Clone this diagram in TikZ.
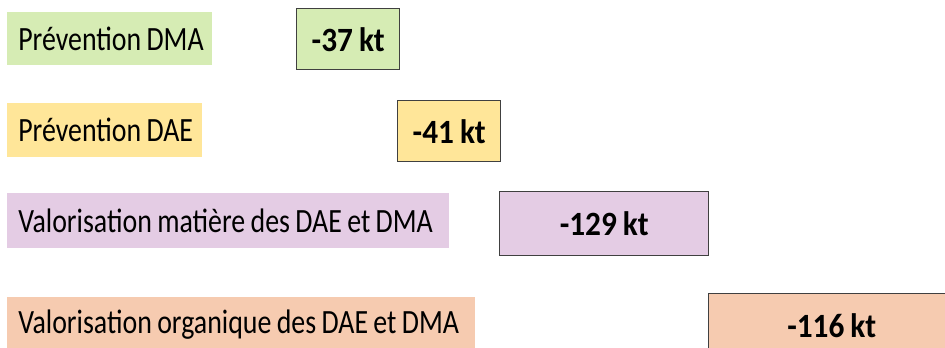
\documentclass[tikz,border=0pt]{standalone}
\usepackage{fontspec}
\setmainfont{Carlito}
\newfontfamily\lblfont[FakeStretch=0.82,WordSpace=0.85]{Carlito}
\newfontfamily\valfont[FakeStretch=0.92,WordSpace=0.85]{Carlito}
\newcommand\lbltext[1]{\mbox{\spaceskip=0pt\xspaceskip=0pt #1}}
\definecolor{cgreen}{RGB}{214,236,180}
\definecolor{cyellow}{RGB}{255,230,153}
\definecolor{cpurple}{RGB}{228,204,228}
\definecolor{csalmon}{RGB}{246,203,176}
\definecolor{cborder}{RGB}{64,64,64}
\tikzset{
  lbl/.style={anchor=north west, inner sep=0pt, inner xsep=8.25pt, align=left,
    font=\lblfont\fontsize{25.5}{28}\selectfont, text=black},
  val/.style={anchor=north west, inner sep=0pt, align=center, draw=cborder, line width=1.1pt,
    font=\valfont\fontsize{25.5}{28}\selectfont\bfseries, text=black},
}
\begin{document}
\begin{tikzpicture}[x=0.75pt,y=-0.75pt]
\useasboundingbox (0,0) rectangle (945,347);
\clip (0,0) rectangle (945,347);
% labels
\node[lbl, fill=cgreen, text width={(205-22)*0.75pt}, minimum height={53*0.75pt}] (l1) at (7,12) {\lbltext{Prévention DMA}};
\node[lbl, fill=cyellow, text width={(195-22)*0.75pt}, minimum height={54*0.75pt}] (l2) at (7,103) {\lbltext{Prévention DAE}};
\node[lbl, fill=cpurple, text width={(442-22)*0.75pt}, minimum height={55*0.75pt}] (l3) at (7,193) {\lbltext{Valorisation matière des DAE et DMA}};
\node[lbl, fill=csalmon, text width={(468-22)*0.75pt}, minimum height={54*0.75pt}] (l4) at (7,297) {\lbltext{Valorisation organique des DAE et DMA}};
% values
\node[val, fill=cgreen, minimum width={103*0.75pt}, minimum height={61*0.75pt}] (v1) at (296,8) {-37 kt};
\node[val, fill=cyellow, minimum width={103*0.75pt}, minimum height={61*0.75pt}] (v2) at (397,100) {-41 kt};
\node[val, fill=cpurple, minimum width={209*0.75pt}, minimum height={64*0.75pt}] (v3) at (499,191) {-129 kt};
\node[val, fill=csalmon, minimum width={246*0.75pt}, minimum height={64*0.75pt}] (v4) at (708,293) {-116 kt};
\end{tikzpicture}
\end{document}
